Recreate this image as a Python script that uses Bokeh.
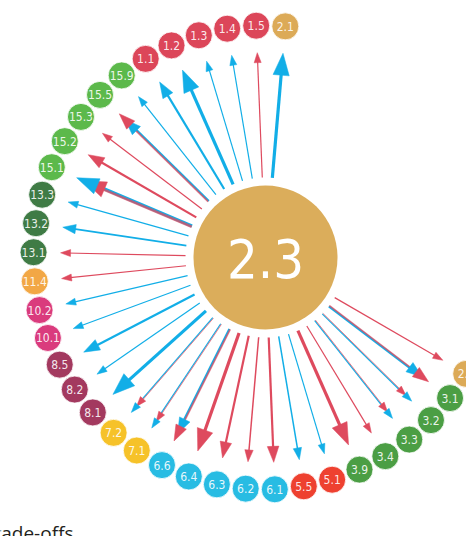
import math
from bokeh.plotting import figure
from bokeh.models import Range1d
from bokeh.core.properties import value
from bokeh.embed import file_html
from bokeh.resources import INLINE

# ---------------- data ----------------
center_label = "2.3"
targets = ["2.1", "1.5", "1.4", "1.3", "1.2", "1.1", "15.9", "15.5", "15.3", "15.2",
           "15.1", "13.3", "13.2", "13.1", "11.4", "10.2", "10.1", "8.5", "8.2", "8.1",
           "7.2", "7.1", "6.6", "6.4", "6.3", "6.2", "6.1", "5.5", "5.1", "3.9",
           "3.4", "3.3", "3.2", "3.1", "2.5"]
# s = synergy (blue), t = trade-off (red), b = both
link_type = ["s", "t", "s", "s", "s", "s", "s", "b", "t", "t",
             "b", "s", "s", "t", "t", "s", "s", "s", "s", "s",
             "b", "b", "b", "t", "t", "t", "t", "s", "s", "t",
             "t", "b", "b", "b", "t"]
strength = [3, 1, 1, 1, 3, 2, 1, 2, 1, 2,
            3, 1, 1.5, 1, 1, 1, 1, 2, 1, 3,
            1, 1, 2, 3, 2, 1.3, 2, 1.3, 1, 3,
            1, 1, 1, 2, 1]
# for "both" links: which kind reaches the node first
front_kind = {"15.5": "t", "15.1": "s", "7.2": "s", "7.1": "s", "6.6": "t",
              "3.3": "s", "3.2": "s", "3.1": "t"}
legend_text = "Trade-offs"

goal_colors = {"1": "#DC4659", "2": "#DCAA57", "3": "#4B9E44", "5": "#EE4130",
               "6": "#28BCE3", "7": "#F6C229", "8": "#A3395F", "10": "#DA3B7D",
               "11": "#F2A745", "13": "#3F7B45", "15": "#5CB94B"}
center_color = "#DBAD5B"
kind_colors = {"s": "#12AEE7", "t": "#DE4A5E"}
LABEL_FONT = "DejaVu Sans Condensed"

# ---------------- layout ----------------
CX, CY = 265.0, 257.0
R_NODE = 232.0
NODE_R = 13.5
CENTER_R = 72.0
R0 = 80.0
R_TIP = 205.0
START = -85.1
STEP = 7.2

p = figure(width=466, height=536, output_backend="svg", toolbar_location=None,
           x_range=Range1d(0, 466), y_range=Range1d(536, 0), min_border=0)
p.axis.visible = False
p.grid.visible = False
p.outline_line_color = None
p.background_fill_color = "white"
p.border_fill_color = "white"

lines_x, lines_y, lines_c, lines_w, lines_a = [], [], [], [], []
heads_x, heads_y, heads_c = [], [], []
front_heads = []


def seg(ux, uy, r1, r2, off=0.0):
    px, py = -uy, ux
    return ([CX + ux * r1 + px * off, CX + ux * r2 + px * off],
            [CY + uy * r1 + py * off, CY + uy * r2 + py * off])


def head(ux, uy, rt, w):
    hl = 4 + 6 * w
    hw = 1.2 + 2.3 * w
    px, py = -uy, ux
    tx, ty = CX + ux * rt, CY + uy * rt
    bx, by = CX + ux * (rt - hl), CY + uy * (rt - hl)
    return ([tx, bx + px * hw, bx - px * hw], [ty, by + py * hw, by - py * hw]), hl


node_x, node_y, node_c = [], [], []
for i, (lab, kind, w) in enumerate(zip(targets, link_type, strength)):
    ang = math.radians(START - STEP * i)
    ux, uy = math.cos(ang), math.sin(ang)
    node_x.append(CX + ux * R_NODE)
    node_y.append(CY + uy * R_NODE)
    node_c.append(goal_colors[lab.split(".")[0]])
    lw = 0.2 + w
    if kind in ("s", "t"):
        (hx, hy), hl = head(ux, uy, R_TIP, w)
        xs, ys = seg(ux, uy, R0, R_TIP - hl * 0.6)
        lines_x.append(xs); lines_y.append(ys)
        lines_c.append(kind_colors[kind]); lines_w.append(lw); lines_a.append(1.0)
        heads_x.append(hx); heads_y.append(hy); heads_c.append(kind_colors[kind])
    else:
        fk = front_kind.get(lab, "t")
        bk = "s" if fk == "t" else "t"
        (bhx, bhy), bhl = head(ux, uy, R_TIP - 8, w)
        (fhx, fhy), fhl = head(ux, uy, R_TIP, w)
        xs, ys = seg(ux, uy, R0, R_TIP - 8 - bhl * 0.6, 0.5)
        lines_x.append(xs); lines_y.append(ys)
        lines_c.append(kind_colors["s"]); lines_w.append(lw); lines_a.append(1.0)
        xs, ys = seg(ux, uy, R0, R_TIP - fhl * 0.6 if fk == "t" else R_TIP - 8 - bhl * 0.6, -0.4)
        lines_x.append(xs); lines_y.append(ys)
        lines_c.append(kind_colors["t"]); lines_w.append(lw * 0.8); lines_a.append(0.75)
        heads_x.append(bhx); heads_y.append(bhy); heads_c.append(kind_colors[bk])
        front_heads.append((fhx, fhy, kind_colors[fk]))

for fx, fy, fc in front_heads:
    heads_x.append(fx); heads_y.append(fy); heads_c.append(fc)

p.multi_line(xs=lines_x, ys=lines_y, line_color=lines_c, line_width=lines_w,
             line_alpha=lines_a)
p.patches(xs=heads_x, ys=heads_y, fill_color=heads_c, line_color=heads_c, line_width=0.5)

# center node
p.circle(x=[CX], y=[CY], radius=CENTER_R, fill_color=center_color, line_color=None)
p.text(x=[CX], y=[CY + 1], text=[center_label], text_align="center",
       text_baseline="middle", text_color="white", text_font_size="54px",
       text_font=value(LABEL_FONT))

# outer nodes
p.circle(x=node_x, y=node_y, radius=NODE_R, fill_color=node_c, line_color="white",
         line_width=0.8)
p.text(x=node_x, y=node_y, text=targets, text_align="center", text_baseline="middle",
       text_color="white", text_alpha=0.9, text_font_size="12px",
       text_font=value(LABEL_FONT))

p.text(x=[73], y=[532], text=[legend_text], text_align="right",
       text_baseline="alphabetic", text_color="#231F20", text_font_size="19px",
       text_font=value("Open Sans"))

open("out.html", "w").write(file_html(p, INLINE))
